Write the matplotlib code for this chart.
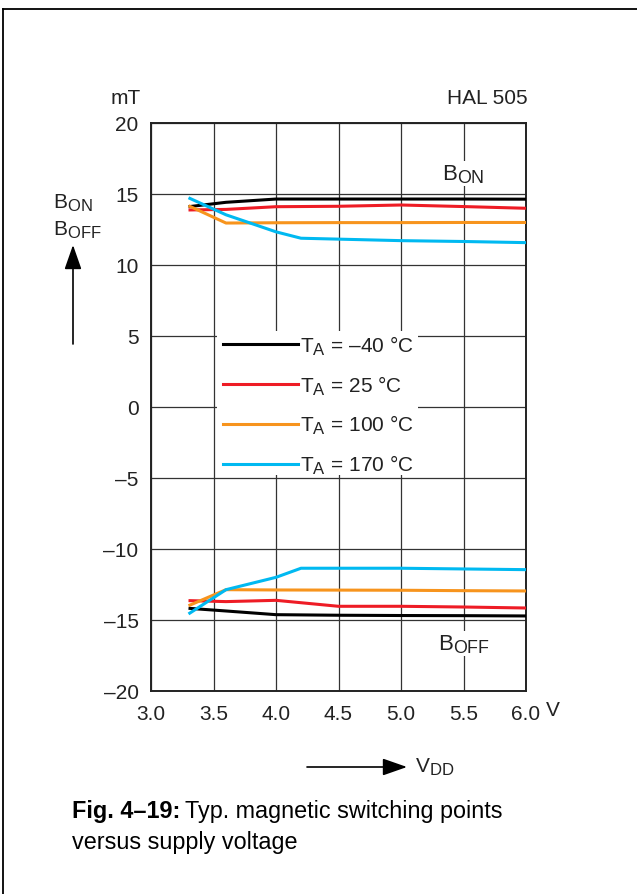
import matplotlib
matplotlib.use("Agg")
import matplotlib.pyplot as plt
from matplotlib.lines import Line2D
from matplotlib.patches import FancyArrowPatch, Rectangle
import matplotlib._mathtext as _mt

_mt.SHRINK_FACTOR = 0.8

plt.rcParams['font.family'] = ['Liberation Sans', 'DejaVu Sans']
plt.rcParams['mathtext.fontset'] = 'custom'
plt.rcParams['mathtext.rm'] = 'Liberation Sans'
plt.rcParams['mathtext.it'] = 'Liberation Sans'
plt.rcParams['mathtext.bf'] = 'Liberation Sans:bold'

# ---- data ----
labels = ["$\\mathrm{T_A}$ = \u201340 \u00b0C", "$\\mathrm{T_A}$ = 25 \u00b0C",
          "$\\mathrm{T_A}$ = 100 \u00b0C", "$\\mathrm{T_A}$ = 170 \u00b0C"]
colors = ["#000000", "#ee1c25", "#f7941d", "#00b9f1"]

v_m40 = [3.3, 3.6, 4.0, 4.5, 5.0, 5.5, 6.0]
bon_m40 = [14.07, 14.38, 14.61, 14.61, 14.61, 14.61, 14.60]
boff_m40 = [-14.21, -14.40, -14.66, -14.70, -14.72, -14.73, -14.75]

v_25 = [3.3, 3.6, 4.0, 4.5, 5.0, 5.5, 6.0]
bon_25 = [13.84, 13.88, 14.07, 14.10, 14.19, 14.08, 13.96]
boff_25 = [-13.67, -13.74, -13.65, -14.07, -14.07, -14.12, -14.19]

v_100 = [3.3, 3.6, 4.0, 4.5, 5.0, 5.5, 6.0]
bon_100 = [14.14, 12.92, 12.94, 12.95, 12.95, 12.96, 12.96]
boff_100 = [-14.03, -12.90, -12.92, -12.93, -12.94, -12.97, -12.99]

v_170 = [3.3, 3.6, 4.0, 4.2, 5.0, 5.5, 6.0]
bon_170 = [14.70, 13.50, 12.30, 11.85, 11.68, 11.62, 11.54]
boff_170 = [-14.61, -12.90, -12.03, -11.39, -11.39, -11.44, -11.49]

series = [(v_m40, bon_m40, boff_m40), (v_25, bon_25, boff_25),
          (v_100, bon_100, boff_100), (v_170, bon_170, boff_170)]

xticks = [3.0, 3.5, 4.0, 4.5, 5.0, 5.5, 6.0]
xticklabels = ["3.0", "3.5", "4.0", "4.5", "5.0", "5.5", "6.0"]
yticks = [-20, -15, -10, -5, 0, 5, 10, 15, 20]
yticklabels = ["\u201320", "\u201315", "\u201310", "\u20135", "0", "5", "10", "15", "20"]

TXT = "#222222"
FS = 15

W, H = 637, 895
fig = plt.figure(figsize=(W / 100, H / 100), dpi=100)
ax = fig.add_axes([151 / W, 1 - 691.5 / H, 375 / W, 568 / H])

ax.set_xlim(3.0, 6.0)
ax.set_ylim(-20, 20)
ax.set_xticks(xticks)
ax.set_xticklabels(xticklabels)
ax.set_yticks(yticks)
ax.set_yticklabels(yticklabels)
ax.tick_params(length=0, labelsize=FS, colors=TXT)
ax.tick_params(axis='x', pad=10)
ax.tick_params(axis='y', pad=9)
ax.grid(True, color="#333333", linewidth=0.9)
ax.set_axisbelow(True)
for s in ax.spines.values():
    s.set_linewidth(1.4)
    s.set_color("#222222")

for (v, bon, boff), c in zip(series, colors):
    ax.plot(v, bon, color=c, lw=2.2, solid_capstyle='butt', zorder=3)
    ax.plot(v, boff, color=c, lw=2.2, solid_capstyle='butt', zorder=3)

# white background behind the legend (hides grid lines)
ax.add_patch(Rectangle((66 / 375, (691.5 - 476) / 568), (418 - 217) / 375, (476 - 332) / 568,
                       transform=ax.transAxes, facecolor='white', edgecolor='none', zorder=1))

handles = [Line2D([], [], color=c, lw=2.2) for c in colors]
leg = ax.legend(handles, labels, loc='upper left', bbox_to_anchor=(66 / 375, (691.5 - 328) / 568),
                frameon=False, fontsize=FS, handlelength=3.6, handletextpad=0.1, labelspacing=0.8,
                borderpad=0.3, borderaxespad=0)
for t in leg.get_texts():
    t.set_color(TXT)
leg.set_zorder(5)

ax.text(5.325, 15.6, "$\\mathrm{B_{ON}}$", fontsize=16, color=TXT, ha='left', va='bottom',
        bbox=dict(facecolor='white', edgecolor='none', pad=1), zorder=4)
ax.text(5.295, -15.9, "$\\mathrm{B_{OFF}}$", fontsize=16, color=TXT, ha='left', va='top',
        bbox=dict(facecolor='white', edgecolor='none', pad=1), zorder=4)

ax.annotate("V", xy=(6.0, -20), xytext=(20, -10), textcoords='offset pixels',
            fontsize=FS, color=TXT, ha='left', va='top')
fig.text(141 / W, 1 - 98 / H, "mT", fontsize=FS, color=TXT, ha='right', va='center')
fig.text(528 / W, 1 - 99 / H, "HAL 505", fontsize=FS, color=TXT, ha='right', va='center')

# y quantity label with arrow
fig.text(53 / W, 1 - 203 / H, "$\\mathrm{B_{ON}}$", fontsize=FS, color=TXT, ha='left', va='center')
fig.text(53 / W, 1 - 230 / H, "$\\mathrm{B_{OFF}}$", fontsize=FS, color=TXT, ha='left', va='center')
fig.add_artist(FancyArrowPatch((73 / W, 1 - 345 / H), (73 / W, 1 - 246 / H),
               transform=fig.transFigure, arrowstyle='-|>,head_length=10,head_width=3.5',
               color='black', lw=1.2, mutation_scale=1.5, shrinkA=0, shrinkB=0))
# x quantity label with arrow
fig.add_artist(FancyArrowPatch((307 / W, 1 - 768 / H), (407 / W, 1 - 768 / H),
               transform=fig.transFigure, arrowstyle='-|>,head_length=10,head_width=3.5',
               color='black', lw=1.2, mutation_scale=1.5, shrinkA=0, shrinkB=0))
fig.text(415 / W, 1 - 767 / H, "$\\mathrm{V_{DD}}$", fontsize=FS, color=TXT, ha='left', va='center')

# caption
CFS = 16.8
cap1 = fig.text(72 / W, 1 - 812 / H, "Fig. 4\u201319:", fontsize=CFS, fontweight='bold', ha='left', va='center')
fig.canvas.draw()
bb = cap1.get_window_extent()
fig.text((bb.x1 + 5) / W, 1 - 812 / H, "Typ. magnetic switching points", fontsize=CFS,
         ha='left', va='center')
fig.text(72 / W, 1 - 843 / H, "versus supply voltage", fontsize=CFS, ha='left', va='center')

# outer frame (left and top)
fig.add_artist(Line2D([3 / W, 3 / W], [0, 1 - 10 / H], transform=fig.transFigure, color='black', lw=1.3))
fig.add_artist(Line2D([3 / W, 1], [1 - 10 / H, 1 - 10 / H], transform=fig.transFigure, color='black', lw=1.3))

fig.savefig("out.png", dpi=100, facecolor='white')
